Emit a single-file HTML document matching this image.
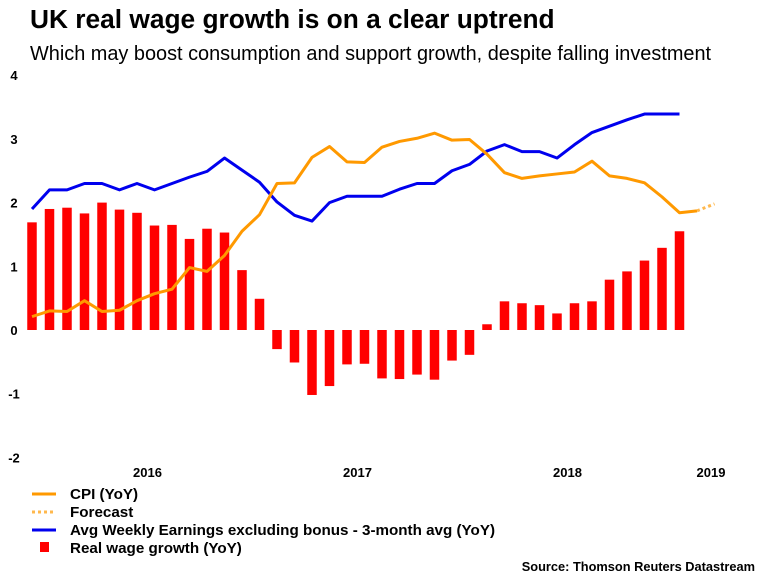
<!DOCTYPE html>
<html><head><meta charset="utf-8"><style>
body{margin:0;background:#fff;font-family:"Liberation Sans",sans-serif}
svg text{font-family:"Liberation Sans",sans-serif}
</style></head><body>
<svg id="c" width="768" height="576" xmlns="http://www.w3.org/2000/svg">
<text x="30" y="28" font-size="26.3" font-weight="bold" fill="#000">UK real wage growth is on a clear uptrend</text>
<text x="30" y="60" font-size="19.9" fill="#000">Which may boost consumption and support growth, despite falling investment</text>
<g id="yt"></g><g id="bars"></g><g id="lines"></g><g id="xt"></g>
<g font-size="15.2" font-weight="bold">
<line x1="32" y1="494" x2="56" y2="494" stroke="#ff9900" stroke-width="3"/>
<text x="70" y="499">CPI (YoY)</text>
<line x1="32" y1="512" x2="56" y2="512" stroke="#ffb84d" stroke-width="3" stroke-dasharray="3,3"/>
<text x="70" y="517">Forecast</text>
<line x1="32" y1="530" x2="56" y2="530" stroke="#0000ee" stroke-width="3"/>
<text x="70" y="535">Avg Weekly Earnings excluding bonus - 3-month avg (YoY)</text>
<rect x="40" y="542" width="9" height="10" fill="#ff0000"/>
<text x="70" y="553">Real wage growth (YoY)</text>
</g>
<text x="755" y="571" font-size="12.8" font-weight="bold" text-anchor="end">Source: Thomson Reuters Datastream</text>
</svg>
<script>
const yTicks=[4,3,2,1,0,-1,-2];
const xLabels=["2016","2017","2018","2019"];
const xLabelIdx=[6.6,18.6,30.6,38.8];
const realWage=[1.69,1.90,1.92,1.83,2.0,1.89,1.84,1.64,1.65,1.43,1.59,1.53,0.94,0.49,-0.30,-0.51,-1.02,-0.88,-0.54,-0.53,-0.76,-0.77,-0.70,-0.78,-0.48,-0.39,0.09,0.45,0.42,0.39,0.26,0.42,0.45,0.79,0.92,1.09,1.29,1.55];
const cpi=[0.21,0.30,0.29,0.46,0.29,0.31,0.46,0.57,0.64,0.98,0.92,1.17,1.55,1.81,2.30,2.31,2.71,2.88,2.64,2.63,2.87,2.96,3.01,3.09,2.98,2.99,2.76,2.47,2.38,2.42,2.45,2.48,2.65,2.42,2.38,2.31,2.09,1.84,1.87];
const cpiForecast=[1.87,1.98];
const awe=[1.90,2.20,2.20,2.30,2.30,2.20,2.30,2.20,2.30,2.40,2.49,2.70,2.51,2.32,2.01,1.80,1.71,2.0,2.10,2.10,2.10,2.21,2.30,2.30,2.50,2.60,2.81,2.91,2.80,2.80,2.70,2.91,3.10,3.20,3.30,3.39,3.39,3.39];
const NS="http://www.w3.org/2000/svg";
const X=i=>32+17.5*i, Y=v=>330-63.7*v;
function mk(t,a,p){const e=document.createElementNS(NS,t);for(const k in a)e.setAttribute(k,a[k]);p.appendChild(e);return e;}
const yt=document.getElementById('yt');
yTicks.forEach(v=>{const t=mk('text',{x:14,y:Y(v)+5,'font-size':13,'font-weight':'bold','text-anchor':'middle'},yt);t.textContent=v;

});
const xt=document.getElementById('xt');
xLabels.forEach((l,k)=>{const t=mk('text',{x:X(xLabelIdx[k]),y:477,'font-size':13,'font-weight':'bold','text-anchor':'middle'},xt);t.textContent=l;

});
const bg=document.getElementById('bars');
realWage.forEach((v,i)=>{const r=mk('rect',{x:X(i)-4.75,y:Math.min(Y(v),Y(0)),width:9.5,height:Math.abs(Y(v)-Y(0)),fill:'#ff0000'},bg);

});
const lg=document.getElementById('lines');
function line(arr,off,col,dash,name){const p=mk('polyline',{points:arr.map((v,i)=>X(i+off)+','+Y(v)).join(' '),fill:'none',stroke:col,'stroke-width':3,'stroke-linejoin':'round'},lg);if(dash)p.setAttribute('stroke-dasharray',dash);

}
line(awe,0,'#0000ee',null,'awe-line');
line(cpi,0,'#ff9900',null,'cpi-line');
line(cpiForecast,cpi.length-1,'#ffb84d','3,3','cpi-forecast-line');
</script>
</body></html>
